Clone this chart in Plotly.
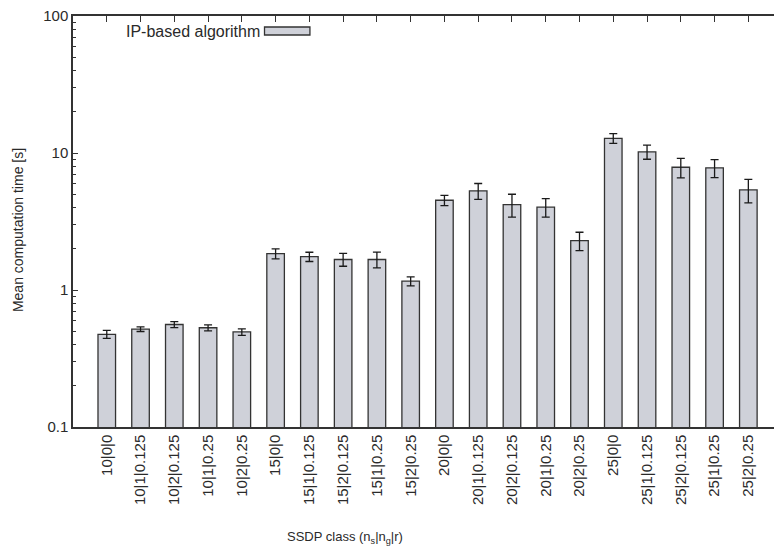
import plotly.graph_objects as go

categories = ["10|0|0", "10|1|0.125", "10|2|0.125", "10|1|0.25", "10|2|0.25",
              "15|0|0", "15|1|0.125", "15|2|0.125", "15|1|0.25", "15|2|0.25",
              "20|0|0", "20|1|0.125", "20|2|0.125", "20|1|0.25", "20|2|0.25",
              "25|0|0", "25|1|0.125", "25|2|0.125", "25|1|0.25", "25|2|0.25"]
mean_time = [0.475, 0.518, 0.56, 0.53, 0.494,
             1.84, 1.75, 1.67, 1.67, 1.16,
             4.52, 5.29, 4.2, 4.02, 2.29,
             12.8, 10.2, 7.87, 7.79, 5.38]
err_time = [0.032, 0.02, 0.028, 0.027, 0.027,
            0.155, 0.136, 0.18, 0.22, 0.087,
            0.39, 0.7, 0.8, 0.62, 0.35,
            1.04, 1.2, 1.28, 1.17, 1.05]
y_tickvals = [0.1, 1, 10, 100]
y_ticktext = ["0.1", "1", "10", "100"]
y_minor = [m * d for d in (0.1, 1, 10) for m in range(2, 10)]

xs = list(range(len(categories)))
FONT = "Liberation Sans, Arial, sans-serif"
TXT = "#2a2a2a"

fig = go.Figure()
fig.add_trace(go.Bar(
    x=xs, y=mean_time, width=0.52,
    marker=dict(color="#cfd1d9", line=dict(color="#333333", width=1.3)),
    error_y=dict(type="data", array=err_time, color="#1a1a1a", thickness=1.3, width=4),
    showlegend=False,
))
# invisible trace for the top axis
fig.add_trace(go.Scatter(x=[xs[0]], y=[1], xaxis="x2", mode="markers",
                         marker=dict(opacity=0), showlegend=False, hoverinfo="skip"))

xr = [-1, 19.76]
fig.update_layout(
    width=774, height=554,
    margin=dict(l=73, r=0, t=16, b=127, autoexpand=False),
    paper_bgcolor="white", plot_bgcolor="white",
    font=dict(family=FONT, size=15, color=TXT),
    xaxis=dict(range=xr, tickvals=xs, ticktext=categories, tickangle=-90,
               showline=True, linecolor="#333", linewidth=1.5, ticks="",
               showgrid=False, zeroline=False, automargin=False,
               tickfont=dict(size=15, color=TXT)),
    xaxis2=dict(range=xr, overlaying="x", side="top", tickvals=xs, showticklabels=False,
                ticks="inside", ticklen=6, tickcolor="#333", tickwidth=1,
                showline=True, linecolor="#333", linewidth=1.5, showgrid=False, zeroline=False),
    yaxis=dict(type="log", range=[-1, 2], tickvals=y_tickvals, ticktext=y_ticktext,
               ticks="inside", ticklen=5, tickcolor="#333", tickwidth=1,
               minor=dict(tickvals=y_minor, ticks="inside", ticklen=3, tickcolor="#333", tickwidth=1, showgrid=False),
               showline=True, linecolor="#333", linewidth=1.5, showgrid=False, zeroline=False,
               automargin=False, tickfont=dict(size=15, color=TXT)),
    bargap=0.48,
)

fig.add_annotation(text="Mean computation time [s]", xref="paper", yref="paper",
                   x=-0.0785, y=0.479, xanchor="center", yanchor="middle", textangle=-90,
                   showarrow=False, font=dict(size=14, color=TXT))
fig.add_annotation(text="SSDP class (n<sub>s</sub>|n<sub>g</sub>|r)", xref="paper", yref="paper",
                   x=0.388, y=-0.27, xanchor="center", yanchor="middle", showarrow=False,
                   font=dict(size=13, color=TXT))
fig.add_annotation(text="IP-based algorithm", xref="paper", yref="paper",
                   x=0.2696, y=0.9635, xanchor="right", yanchor="middle", showarrow=False,
                   font=dict(size=16, color=TXT))
fig.add_shape(type="rect", xref="paper", yref="paper",
              x0=0.2732, x1=0.338, y0=0.9538, y1=0.9732,
              fillcolor="#cfd1d9", line=dict(color="#333333", width=1.3))

fig.write_html("out.html", config={"displayModeBar": False},
               post_script="document.body.style.margin='0';")
